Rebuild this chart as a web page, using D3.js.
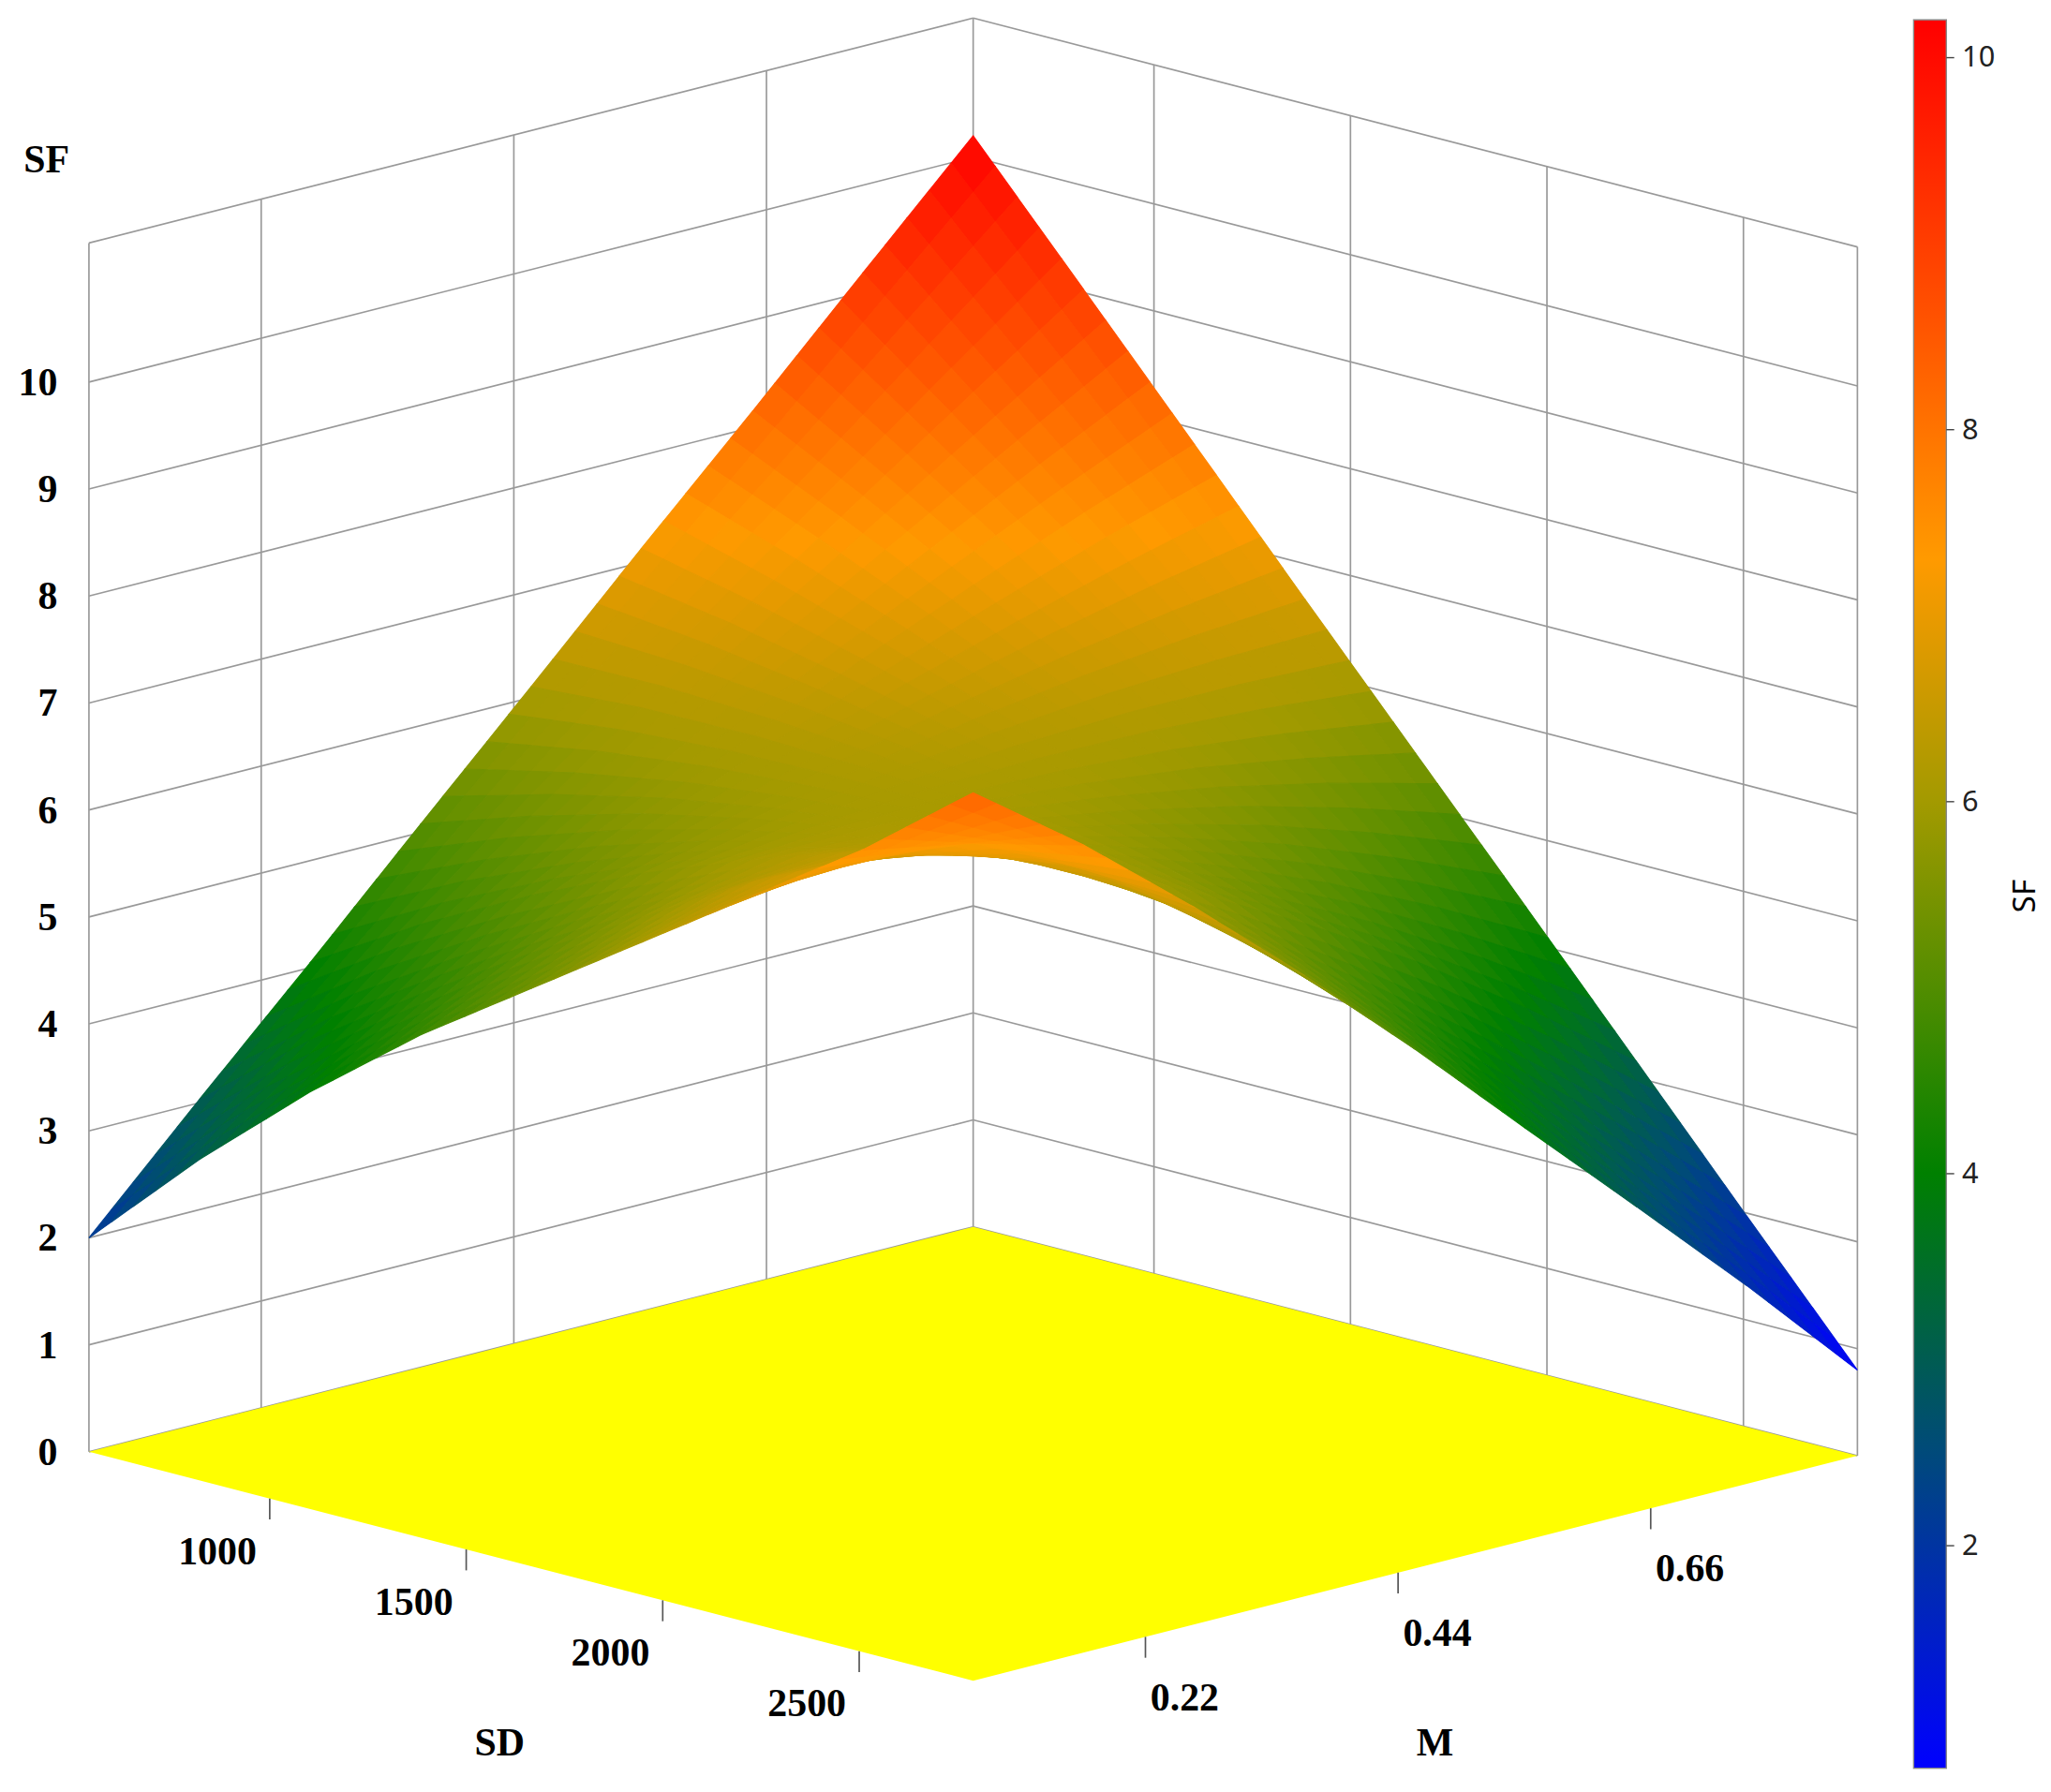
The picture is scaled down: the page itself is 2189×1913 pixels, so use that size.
<!DOCTYPE html>
<html>
<head>
<meta charset="utf-8">
<script src="https://cdn.jsdelivr.net/npm/d3@7/dist/d3.min.js"></script>
<style>
  body { margin: 0; background: #fff; }
  svg { display: block; }
</style>
</head>
<body>
<div id="chart"></div>
<script>
// grid of SD (rows) and M (columns), SF
const sdValues = [540, 821, 1103, 1384, 1665, 1946, 2228, 2509, 2790];
const mValues = [0.07, 0.166, 0.263, 0.359, 0.455, 0.551, 0.648, 0.744, 0.84];
const sfGrid = [
  [2.00, 3.03, 4.05, 5.08, 6.10, 7.13, 8.15, 9.18, 10.20],
  [3.00, 3.85, 4.67, 5.42, 6.17, 6.90, 7.62, 8.33, 9.03],
  [3.90, 4.55, 5.21, 5.71, 6.18, 6.63, 7.06, 7.47, 7.85],
  [4.70, 5.20, 5.68, 5.93, 6.15, 6.33, 6.48, 6.59, 6.67],
  [5.40, 5.80, 6.08, 6.10, 6.08, 6.00, 5.88, 5.71, 5.50],
  [6.10, 6.40, 6.42, 6.21, 5.96, 5.64, 5.26, 4.82, 4.33],
  [6.80, 6.90, 6.68, 6.26, 5.78, 5.23, 4.61, 3.91, 3.15],
  [7.50, 7.30, 6.80, 6.10, 5.35, 4.55, 3.70, 2.85, 1.97],
  [8.30, 7.55, 6.70, 5.80, 4.85, 3.85, 2.85, 1.85, 0.80]
];
const zTicks = [0, 1, 2, 3, 4, 5, 6, 7, 8, 9, 10];
const sdTicks = [1000, 1500, 2000, 2500];
const mTicks = [0.22, 0.44, 0.66];
const cbTicks = [2, 4, 6, 8, 10];
const cbStops = [0.8, 2.5, 4, 6, 7.3, 8.6, 10.2];
const cbColors = ['#0000ff', '#004a7a', '#008000', '#a39a00', '#ff9a00', '#ff5200', '#ff0000'];

const W = 1568, H = 1370;
const svg = d3.select('#chart').append('svg')
  .attr('width', 2189).attr('height', 1913)
  .attr('viewBox', `0 0 ${W} ${H}`);

const sdScale = d3.scaleLinear().domain([540, 2790]).range([0, 1]);
const mScale = d3.scaleLinear().domain([0.07, 0.84]).range([0, 1]);
const zScale = d3.scaleLinear().domain([0, 1]).range([0, -81.8]);
const color = d3.scaleLinear().domain(cbStops).range(cbColors).clamp(true);

const L = [68, 1110];
function proj(sd, m, z) {
  const s = sdScale(sd), t = mScale(m);
  return [L[0] + 676 * s + 676 * t, L[1] + 175 * s - 172 * t + zScale(z)];
}
const sdMin = 540, sdMax = 2790, mMin = 0.07, mMax = 0.84, zTop = 11.3;
const line = d3.line();

const grid = svg.append('g').attr('stroke', '#999').attr('stroke-width', 1.2).attr('fill', 'none');
// left wall (SD = min)
zTicks.forEach(z => grid.append('path').attr('d', line([proj(sdMin, mMin, z), proj(sdMin, mMax, z)])));
mTicks.concat([mMin, mMax]).forEach(m => grid.append('path').attr('d', line([proj(sdMin, m, 0), proj(sdMin, m, zTop)])));
grid.append('path').attr('d', line([proj(sdMin, mMin, zTop), proj(sdMin, mMax, zTop)]));
// right wall (M = max)
zTicks.forEach(z => grid.append('path').attr('d', line([proj(sdMin, mMax, z), proj(sdMax, mMax, z)])));
sdTicks.concat([sdMax]).forEach(sd => grid.append('path').attr('d', line([proj(sd, mMax, 0), proj(sd, mMax, zTop)])));
grid.append('path').attr('d', line([proj(sdMin, mMax, zTop), proj(sdMax, mMax, zTop)]));

// floor
svg.append('path')
  .attr('d', line([proj(sdMin, mMin, 0), proj(sdMax, mMin, 0), proj(sdMax, mMax, 0), proj(sdMin, mMax, 0)]) + 'Z')
  .attr('fill', '#ffff00');

// ticks on floor edges
const tk = svg.append('g').attr('stroke', '#555').attr('stroke-width', 1.2);
sdTicks.forEach(sd => {
  const p = proj(sd, mMin, 0);
  tk.append('line').attr('x1', p[0]).attr('x2', p[0]).attr('y1', p[1]).attr('y2', p[1] + 16);
});
mTicks.forEach(m => {
  const p = proj(sdMax, m, 0);
  tk.append('line').attr('x1', p[0]).attr('x2', p[0]).attr('y1', p[1]).attr('y2', p[1] + 16);
});

// surface: split each grid cell for smooth shading
const sub = 5, cells = [];
function val(i, j, u, v) {
  return sfGrid[i][j] * (1 - u) * (1 - v) + sfGrid[i + 1][j] * u * (1 - v) +
    sfGrid[i][j + 1] * (1 - u) * v + sfGrid[i + 1][j + 1] * u * v;
}
for (let i = 0; i < sdValues.length - 1; i++) {
  for (let j = 0; j < mValues.length - 1; j++) {
    for (let a = 0; a < sub; a++) {
      for (let b = 0; b < sub; b++) {
        const corners = [[a, b], [a + 1, b], [a + 1, b + 1], [a, b + 1]].map(([p, q]) => {
          const u = p / sub, v = q / sub;
          const sd = sdValues[i] + (sdValues[i + 1] - sdValues[i]) * u;
          const m = mValues[j] + (mValues[j + 1] - mValues[j]) * v;
          return { sd, m, z: val(i, j, u, v) };
        });
        const zc = d3.mean(corners, c => c.z);
        const depth = d3.mean(corners, c => sdScale(c.sd) - mScale(c.m));
        cells.push({ pts: corners.map(c => proj(c.sd, c.m, c.z)), zc, depth });
      }
    }
  }
}
cells.sort((p, q) => p.depth - q.depth);
svg.append('g').selectAll('path').data(cells).enter().append('path')
  .attr('d', d => line(d.pts) + 'Z')
  .attr('fill', d => color(d.zc))
  .attr('stroke', d => color(d.zc))
  .attr('stroke-width', 0.8);

// labels
const serif = '"Liberation Serif", "Times New Roman", serif';
const lab = svg.append('g').attr('font-family', serif).attr('font-weight', 'bold').attr('font-size', 30).attr('fill', '#000');
zTicks.forEach(z => {
  const p = proj(sdMin, mMin, z);
  lab.append('text').attr('x', 44).attr('y', p[1] + 10).attr('text-anchor', 'end').text(z);
});
lab.append('text').attr('x', 18).attr('y', 132).text('SF');
sdTicks.forEach(sd => {
  const p = proj(sd, mMin, 0);
  lab.append('text').attr('x', p[0] - 40).attr('y', p[1] + 50).attr('text-anchor', 'middle').text(sd);
});
mTicks.forEach(m => {
  const p = proj(sdMax, m, 0);
  lab.append('text').attr('x', p[0] + 30).attr('y', p[1] + 56).attr('text-anchor', 'middle').text(m.toFixed(2));
});
lab.append('text').attr('x', 382).attr('y', 1342).attr('text-anchor', 'middle').text('SD');
lab.append('text').attr('x', 1097).attr('y', 1342).attr('text-anchor', 'middle').text('M');

// colour bar
const cbY = d3.scaleLinear().domain([0.8, 10.2]).range([1352, 15]);
const defs = svg.append('defs');
const grad = defs.append('linearGradient').attr('id', 'cb').attr('x1', 0).attr('y1', 1).attr('x2', 0).attr('y2', 0);
cbStops.forEach((v, k) => grad.append('stop').attr('offset', (v - 0.8) / 9.4).attr('stop-color', cbColors[k]));
svg.append('rect').attr('x', 1463).attr('y', 15).attr('width', 25).attr('height', 1337)
  .attr('fill', 'url(#cb)').attr('stroke', '#888').attr('stroke-width', 1);
const cbAxis = svg.append('g').attr('transform', 'translate(1488,0)')
  .call(d3.axisRight(cbY).tickValues(cbTicks).tickSize(6).tickPadding(6));
cbAxis.select('.domain').remove();
cbAxis.selectAll('text').attr('font-family', '"Noto Sans", sans-serif').attr('font-size', 22).attr('fill', '#222');
cbAxis.selectAll('line').attr('stroke', '#444');
svg.append('text').attr('transform', 'translate(1556,685) rotate(-90)')
  .attr('text-anchor', 'middle').attr('font-family', '"Noto Sans", sans-serif').attr('font-size', 24).text('SF');
</script>
</body>
</html>
